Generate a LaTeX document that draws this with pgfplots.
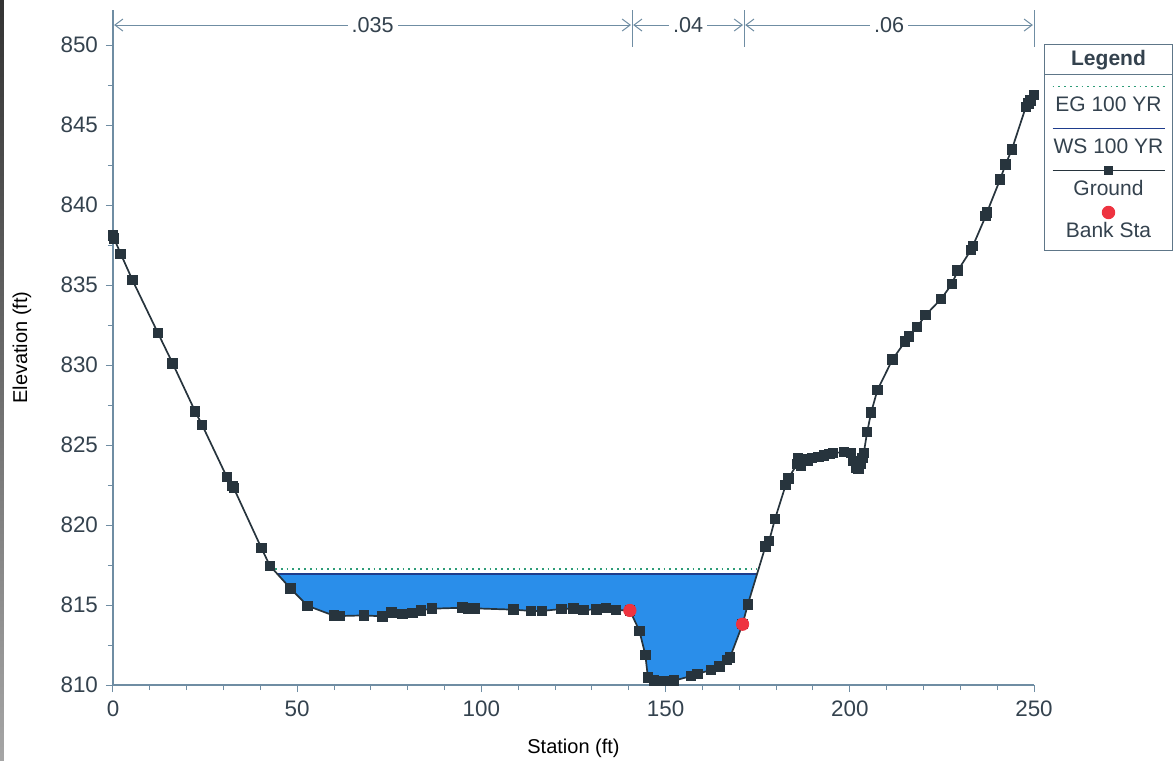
\documentclass[border=0pt]{standalone}
\usepackage{pgfplots}
\pgfplotsset{compat=1.18}
\usepackage{fontspec}
\setmainfont{Liberation Sans}
\usetikzlibrary{arrows.meta}
\definecolor{textcol}{HTML}{34424E}
\definecolor{axiscol}{HTML}{6F8DA3}
\definecolor{groundcol}{HTML}{27343D}
\definecolor{watercol}{HTML}{2A8EEA}
\definecolor{wscol}{HTML}{1E3C8C}
\definecolor{egcol}{HTML}{2E9C78}
\definecolor{bankcol}{HTML}{EE3340}
\definecolor{bordercol}{HTML}{5E7688}

\pgfplotstableread{
x y
0 838.1
0.3 837.9
2.1 836.95
5.3 835.3
12.2 832.0
16.2 830.1
22.3 827.1
24.2 826.25
30.9 823.0
32.5 822.45
32.8 822.3
40.3 818.55
42.6 817.45
48.2 816.03
52.8 814.95
60.0 814.33
61.6 814.31
68.1 814.35
73.2 814.29
75.6 814.54
78.6 814.44
81.3 814.5
83.6 814.67
86.6 814.77
94.9 814.83
96.4 814.79
98.3 814.79
108.7 814.71
113.5 814.63
116.4 814.63
121.8 814.75
125.0 814.79
127.7 814.69
131.3 814.73
133.8 814.81
136.5 814.69
140.3 814.66
142.9 813.38
144.5 811.88
145.2 810.47
146.9 810.28
149.7 810.25
152.3 810.27
156.9 810.56
158.6 810.69
162.3 810.94
164.6 811.15
166.6 811.56
167.5 811.73
170.9 813.8
172.3 815.02
177.1 818.66
178.1 819.0
179.7 820.38
182.6 822.5
183.3 822.92
185.7 823.8
186.0 824.2
186.7 823.7
187.6 824.1
188.5 824.0
189.8 824.2
191.5 824.25
193.0 824.35
194.5 824.45
195.4 824.5
198.4 824.55
200.3 824.5
201.0 824.0
201.7 823.6
202.4 823.5
203.0 823.8
203.5 824.2
203.8 824.5
204.7 825.8
205.8 827.04
207.5 828.44
211.6 830.35
215.0 831.46
216.1 831.77
218.3 832.39
220.6 833.13
224.8 834.13
227.7 835.06
229.3 835.9
232.9 837.19
233.4 837.44
236.9 839.31
237.2 839.52
240.8 841.6
242.3 842.54
244.0 843.48
247.8 846.14
248.5 846.36
249.1 846.52
250.0 846.88
}\ground

\pgfplotstableread{
x y
44.56 816.95
48.2 816.03
52.8 814.95
60.0 814.33
61.6 814.31
68.1 814.35
73.2 814.29
75.6 814.54
78.6 814.44
81.3 814.5
83.6 814.67
86.6 814.77
94.9 814.83
96.4 814.79
98.3 814.79
108.7 814.71
113.5 814.63
116.4 814.63
121.8 814.75
125.0 814.79
127.7 814.69
131.3 814.73
133.8 814.81
136.5 814.69
140.3 814.66
142.9 813.38
144.5 811.88
145.2 810.47
146.9 810.28
149.7 810.25
152.3 810.27
156.9 810.56
158.6 810.69
162.3 810.94
164.6 811.15
166.6 811.56
167.5 811.73
170.9 813.8
172.3 815.02
174.7 816.95
}\water

\begin{document}
\begin{tikzpicture}
\begin{axis}[
  name=ax,
  scale only axis,
  width=460.5pt, height=337.5pt,
  xmin=0, xmax=250, ymin=810, ymax=852.19,
  clip=false,
  axis x line=bottom, axis y line=left,
  axis line style={-, draw=axiscol, line width=0.6pt},
  xtick={0,50,...,250}, ytick={810,815,...,850},
  minor x tick num=4, minor y tick num=1,
  tick align=outside,
  major tick length=3.5pt, minor tick length=2.5pt,
  tick style={draw=axiscol, line width=0.5pt},
  /pgf/number format/assume math mode=true,
  /pgf/number format/1000 sep={},
  ticklabel style={font=\fontsize{11.2}{13}\selectfont, text=textcol},
  xticklabel style={yshift=-1pt},
  yticklabel style={xshift=-0.5pt},
  xlabel={Station (ft)}, ylabel={Elevation (ft)},
  label style={font=\fontsize{10.8}{12}\selectfont, text=textcol},
  every axis x label/.style={at={(axis description cs:0.5,-0.0933)}, anchor=center},
  every axis y label/.style={at={(axis description cs:-0.0988,0.5)}, anchor=center, rotate=90},
  legend cell align=center,
  legend style={at={(rel axis cs:1,1)}, anchor=north west, xshift=5pt, yshift=-17pt,
    draw=bordercol, line width=0.5pt, fill=white,
    inner xsep=4pt, inner ysep=0pt,
    nodes={inner sep=0pt, text depth=0pt},
    cells={anchor=center},
    /tikz/column sep=0pt, /tikz/row sep=0pt,
    font=\fontsize{10.5}{12}\selectfont, text=textcol},
]
% water area
\addplot[draw=none, fill=watercol, forget plot] table[x=x,y=y] {\water} -- cycle;
% energy grade and water surface
\addplot[egcol, line width=0.9pt, dotted, forget plot] coordinates {(44.0,817.27) (174.9,817.27)};
\addplot[wscol, line width=0.9pt, forget plot] coordinates {(44.56,816.95) (174.7,816.95)};
% ground
\addplot[groundcol, line width=0.85pt, mark=square*, mark size=2.2pt, mark options={fill=groundcol, draw=groundcol}, forget plot] table[x=x,y=y] {\ground};
% bank stations
\addplot[only marks, mark=*, mark size=3.1pt, mark options={fill=bankcol, draw=bankcol}, forget plot] coordinates {(140.3,814.66) (170.9,813.8)};

% n-value annotations
\begin{scope}[draw=axiscol, line width=0.5pt]
\draw (axis cs:0,850) -- (axis cs:0,852.19);
\draw (axis cs:140.9,849.9) -- (axis cs:140.9,852.19);
\draw (axis cs:171.3,849.9) -- (axis cs:171.3,852.19);
\draw (axis cs:250,849.9) -- (axis cs:250,852.19);
\draw[{Straight Barb[length=4pt,width=6pt]}-{Straight Barb[length=4pt,width=6pt]}] (axis cs:0.3,851.25) -- node[fill=white, inner sep=2pt, text=textcol, font=\fontsize{10.8}{12}\selectfont]{.035} (axis cs:140.6,851.25);
\draw[{Straight Barb[length=4pt,width=6pt]}-{Straight Barb[length=4pt,width=6pt]}] (axis cs:141.2,851.25) -- node[fill=white, inner sep=2pt, text=textcol, font=\fontsize{10.8}{12}\selectfont]{.04} (axis cs:171.0,851.25);
\draw[{Straight Barb[length=4pt,width=6pt]}-{Straight Barb[length=4pt,width=6pt]}] (axis cs:171.6,851.25) -- node[fill=white, inner sep=2pt, text=textcol, font=\fontsize{10.8}{12}\selectfont]{.06} (axis cs:249.7,851.25);
\end{scope}

% legend
\addlegendimage{empty legend}
\addlegendentry{\raisebox{6pt}{\rule{0pt}{10.4pt}\makebox[56pt]{\bfseries Legend}}}
\addlegendimage{legend image code/.code={
  \draw[overlay, bordercol, line width=0.5pt] (-4pt,11.9pt) -- (60pt,11.9pt);
  \draw[overlay, egcol, line width=0.9pt, dotted] (0pt,5.9pt) -- (56pt,5.9pt);}}
\addlegendentry{\raisebox{4pt}{\rule{0pt}{17pt}\makebox[56pt]{EG 100 YR}}}
\addlegendimage{legend image code/.code={
  \draw[overlay, wscol, line width=0.9pt] (0pt,5.9pt) -- (56pt,5.9pt);}}
\addlegendentry{\raisebox{4pt}{\rule{0pt}{17pt}\makebox[56pt]{WS 100 YR}}}
\addlegendimage{legend image code/.code={
  \draw[overlay, groundcol, line width=0.8pt] (0pt,5.9pt) -- (56pt,5.9pt);
  \fill[overlay, groundcol] (25.8pt,3.7pt) rectangle (30.2pt,8.1pt);}}
\addlegendentry{\raisebox{4pt}{\rule{0pt}{17pt}\makebox[56pt]{Ground}}}
\addlegendimage{legend image code/.code={
  \fill[overlay, bankcol] (28pt,7.2pt) circle (3.1pt);}}
\addlegendentry{\raisebox{6.6pt}{\rule{0pt}{17pt}\makebox[56pt]{Bank Sta}}}
\end{axis}
\shade[top color=black!80, bottom color=black!35] ([xshift=-56.5pt,yshift=-38pt]ax.south west) rectangle ([xshift=-54.5pt,yshift=5pt]ax.north west);
\pgfresetboundingbox
\path[use as bounding box] ([xshift=-56.5pt,yshift=-38pt]ax.south west) rectangle ([xshift=70pt,yshift=5pt]ax.north east);
\end{tikzpicture}
\end{document}
